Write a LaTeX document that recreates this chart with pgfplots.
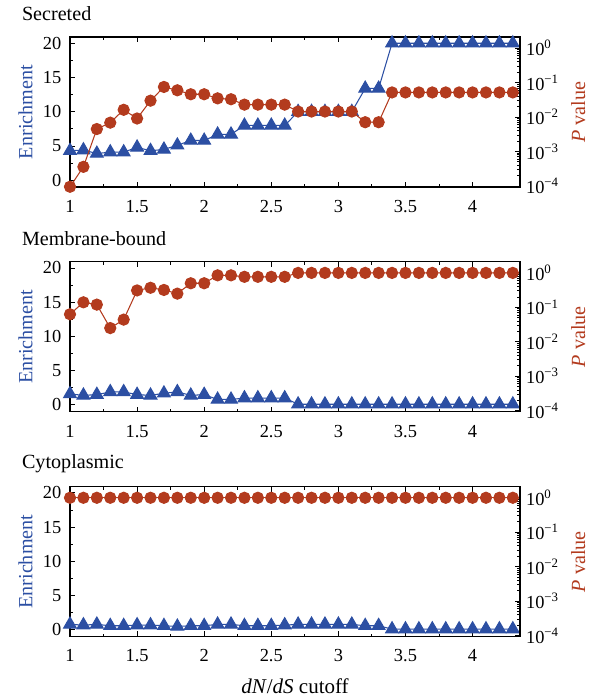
\documentclass[border=0pt]{standalone}
\usepackage{fontspec}
\setmainfont{Liberation Serif}
\usepackage{pgfplots}
\pgfplotsset{compat=1.18}
\usepackage{pgfplotstable}

\definecolor{eblue}{HTML}{2C4FA3}
\definecolor{pred}{HTML}{B33B1E}

% Secreted
\pgfplotstableread{
x e p
1.0 4.3 9.5e-5
1.1 4.4 3.6e-4
1.2 3.9 4.5e-3
1.3 4.1 6.9e-3
1.4 4.1 1.63e-2
1.5 4.8 9.1e-3
1.6 4.3 3.0e-2
1.7 4.5 7.5e-2
1.8 5.1 6.0e-2
1.9 5.8 4.6e-2
2.0 5.8 4.6e-2
2.1 6.7 3.5e-2
2.2 6.7 3.3e-2
2.3 8.0 2.3e-2
2.4 8.0 2.3e-2
2.5 8.0 2.3e-2
2.6 8.0 2.3e-2
2.7 10.0 1.45e-2
2.8 10.0 1.45e-2
2.9 10.0 1.45e-2
3.0 10.0 1.45e-2
3.1 10.0 1.45e-2
3.2 13.4 7.1e-3
3.3 13.4 7.1e-3
3.4 20 5.2e-2
3.5 20 5.2e-2
3.6 20 5.2e-2
3.7 20 5.2e-2
3.8 20 5.2e-2
3.9 20 5.2e-2
4.0 20 5.2e-2
4.1 20 5.2e-2
4.2 20 5.2e-2
4.3 20 5.2e-2
}\secreted

% Membrane-bound
\pgfplotstableread{
x e p
1.0 1.6 0.063
1.1 1.4 0.14
1.2 1.5 0.12
1.3 1.9 0.025
1.4 1.9 0.044
1.5 1.5 0.31
1.6 1.4 0.37
1.7 1.7 0.32
1.8 1.9 0.25
1.9 1.4 0.50
2.0 1.5 0.50
2.1 0.8 0.85
2.2 0.8 0.85
2.3 1.0 0.77
2.4 1.0 0.77
2.5 1.0 0.77
2.6 1.0 0.77
2.7 0.1 1
2.8 0.1 1
2.9 0.1 1
3.0 0.1 1
3.1 0.1 1
3.2 0.1 1
3.3 0.1 1
3.4 0.1 1
3.5 0.1 1
3.6 0.1 1
3.7 0.1 1
3.8 0.1 1
3.9 0.1 1
4.0 0.1 1
4.1 0.1 1
4.2 0.1 1
4.3 0.1 1
}\membrane

% Cytoplasmic
\pgfplotstableread{
x e p
1.0 0.79 1
1.1 0.69 1
1.2 0.79 1
1.3 0.59 1
1.4 0.59 1
1.5 0.69 1
1.6 0.69 1
1.7 0.59 1
1.8 0.49 1
1.9 0.59 1
2.0 0.59 1
2.1 0.79 1
2.2 0.79 1
2.3 0.59 1
2.4 0.59 1
2.5 0.59 1
2.6 0.69 1
2.7 0.79 1
2.8 0.79 1
2.9 0.79 1
3.0 0.79 1
3.1 0.79 1
3.2 0.59 1
3.3 0.59 1
3.4 0.1 1
3.5 0.1 1
3.6 0.1 1
3.7 0.1 1
3.8 0.1 1
3.9 0.1 1
4.0 0.1 1
4.1 0.1 1
4.2 0.1 1
4.3 0.1 1
}\cyto

\pgfplotsset{
  common/.style={
    width=257.1pt, height=85.7pt, scale only axis,
    xmin=1, xmax=4.353,
    tick align=inside,
    major tick length=3pt, minor tick length=1.7pt,
    tick style={black, line width=0.5pt},
    axis line style={line width=0.7pt},
    every tick label/.append style={font=\fontsize{10.5}{12}\selectfont},
    label style={font=\fontsize{11.5}{13}\selectfont},
    /pgf/number format/assume math mode=true,
  },
  leftax/.style={common,
    ymin=-1, ymax=20.9,
    ytick={0,5,10,15,20}, minor y tick num=1,
    xtick={1,1.5,2,2.5,3,3.5,4}, minor x tick num=1,
    xtick pos=both, ytick pos=left,
    xticklabel style={yshift=-4pt},
    yticklabel style={xshift=-1.5pt},
    ylabel={Enrichment},
    ylabel style={color=eblue, yshift=-1pt},
  },
  rightax/.style={common,
    ymin=9.3e-5, ymax=2.1,
    axis y line*=right, axis x line=none,
    ytick={1e-4,1e-3,1e-2,1e-1,1},
    yticklabels={10\textsuperscript{−4},10\textsuperscript{−3},10\textsuperscript{−2},10\textsuperscript{−1},10\textsuperscript{0}},
    minor ytick={2e-4,3e-4,4e-4,5e-4,6e-4,7e-4,8e-4,9e-4,2e-3,3e-3,4e-3,5e-3,6e-3,7e-3,8e-3,9e-3,2e-2,3e-2,4e-2,5e-2,6e-2,7e-2,8e-2,9e-2,0.2,0.3,0.4,0.5,0.6,0.7,0.8,0.9},
    ylabel={\textit{P} value},
    ylabel style={color=pred},
  },
  eline/.style={color=eblue, line width=0.6pt, mark=triangle*, mark size=4.2pt, mark options={solid, fill=eblue}},
  pline/.style={color=pred, line width=0.6pt, mark=*, mark size=3.2pt, mark options={solid, fill=pred}},
}

\begin{document}
\begin{tikzpicture}
\useasboundingbox (0,0) rectangle (340pt,400pt);

% Secreted
\begin{axis}[leftax, at={(40pt,293.1pt)}, anchor=south west]
\addplot[eline] table[x=x, y=e] {\secreted};
\end{axis}
\begin{axis}[ymode=log, rightax, at={(40pt,293.1pt)}, anchor=south west]
\addplot[pline] table[x=x, y=p] {\secreted};
\end{axis}

% Membrane-bound
\begin{axis}[leftax, at={(40pt,164.7pt)}, anchor=south west]
\addplot[eline] table[x=x, y=e] {\membrane};
\end{axis}
\begin{axis}[ymode=log, rightax, at={(40pt,164.7pt)}, anchor=south west]
\addplot[pline] table[x=x, y=p] {\membrane};
\end{axis}

% Cytoplasmic
\begin{axis}[leftax, at={(40pt,36.2pt)}, anchor=south west]
\addplot[eline] table[x=x, y=e] {\cyto};
\end{axis}
\begin{axis}[ymode=log, rightax, at={(40pt,36.2pt)}, anchor=south west]
\addplot[pline] table[x=x, y=p] {\cyto};
\end{axis}

\node[anchor=west, inner sep=0pt, font=\fontsize{11.5}{13}\selectfont] at (12.4pt,392.4pt) {Secreted};
\node[anchor=west, inner sep=0pt, font=\fontsize{11.5}{13}\selectfont] at (12.4pt,263.8pt) {Membrane-bound};
\node[anchor=west, inner sep=0pt, font=\fontsize{11.5}{13}\selectfont] at (12.4pt,135.2pt) {Cytoplasmic};
\node[font=\fontsize{12}{14}\selectfont] at (168.6pt,7.6pt) {\textit{dN}/\textit{dS} cutoff};
\end{tikzpicture}
\end{document}
